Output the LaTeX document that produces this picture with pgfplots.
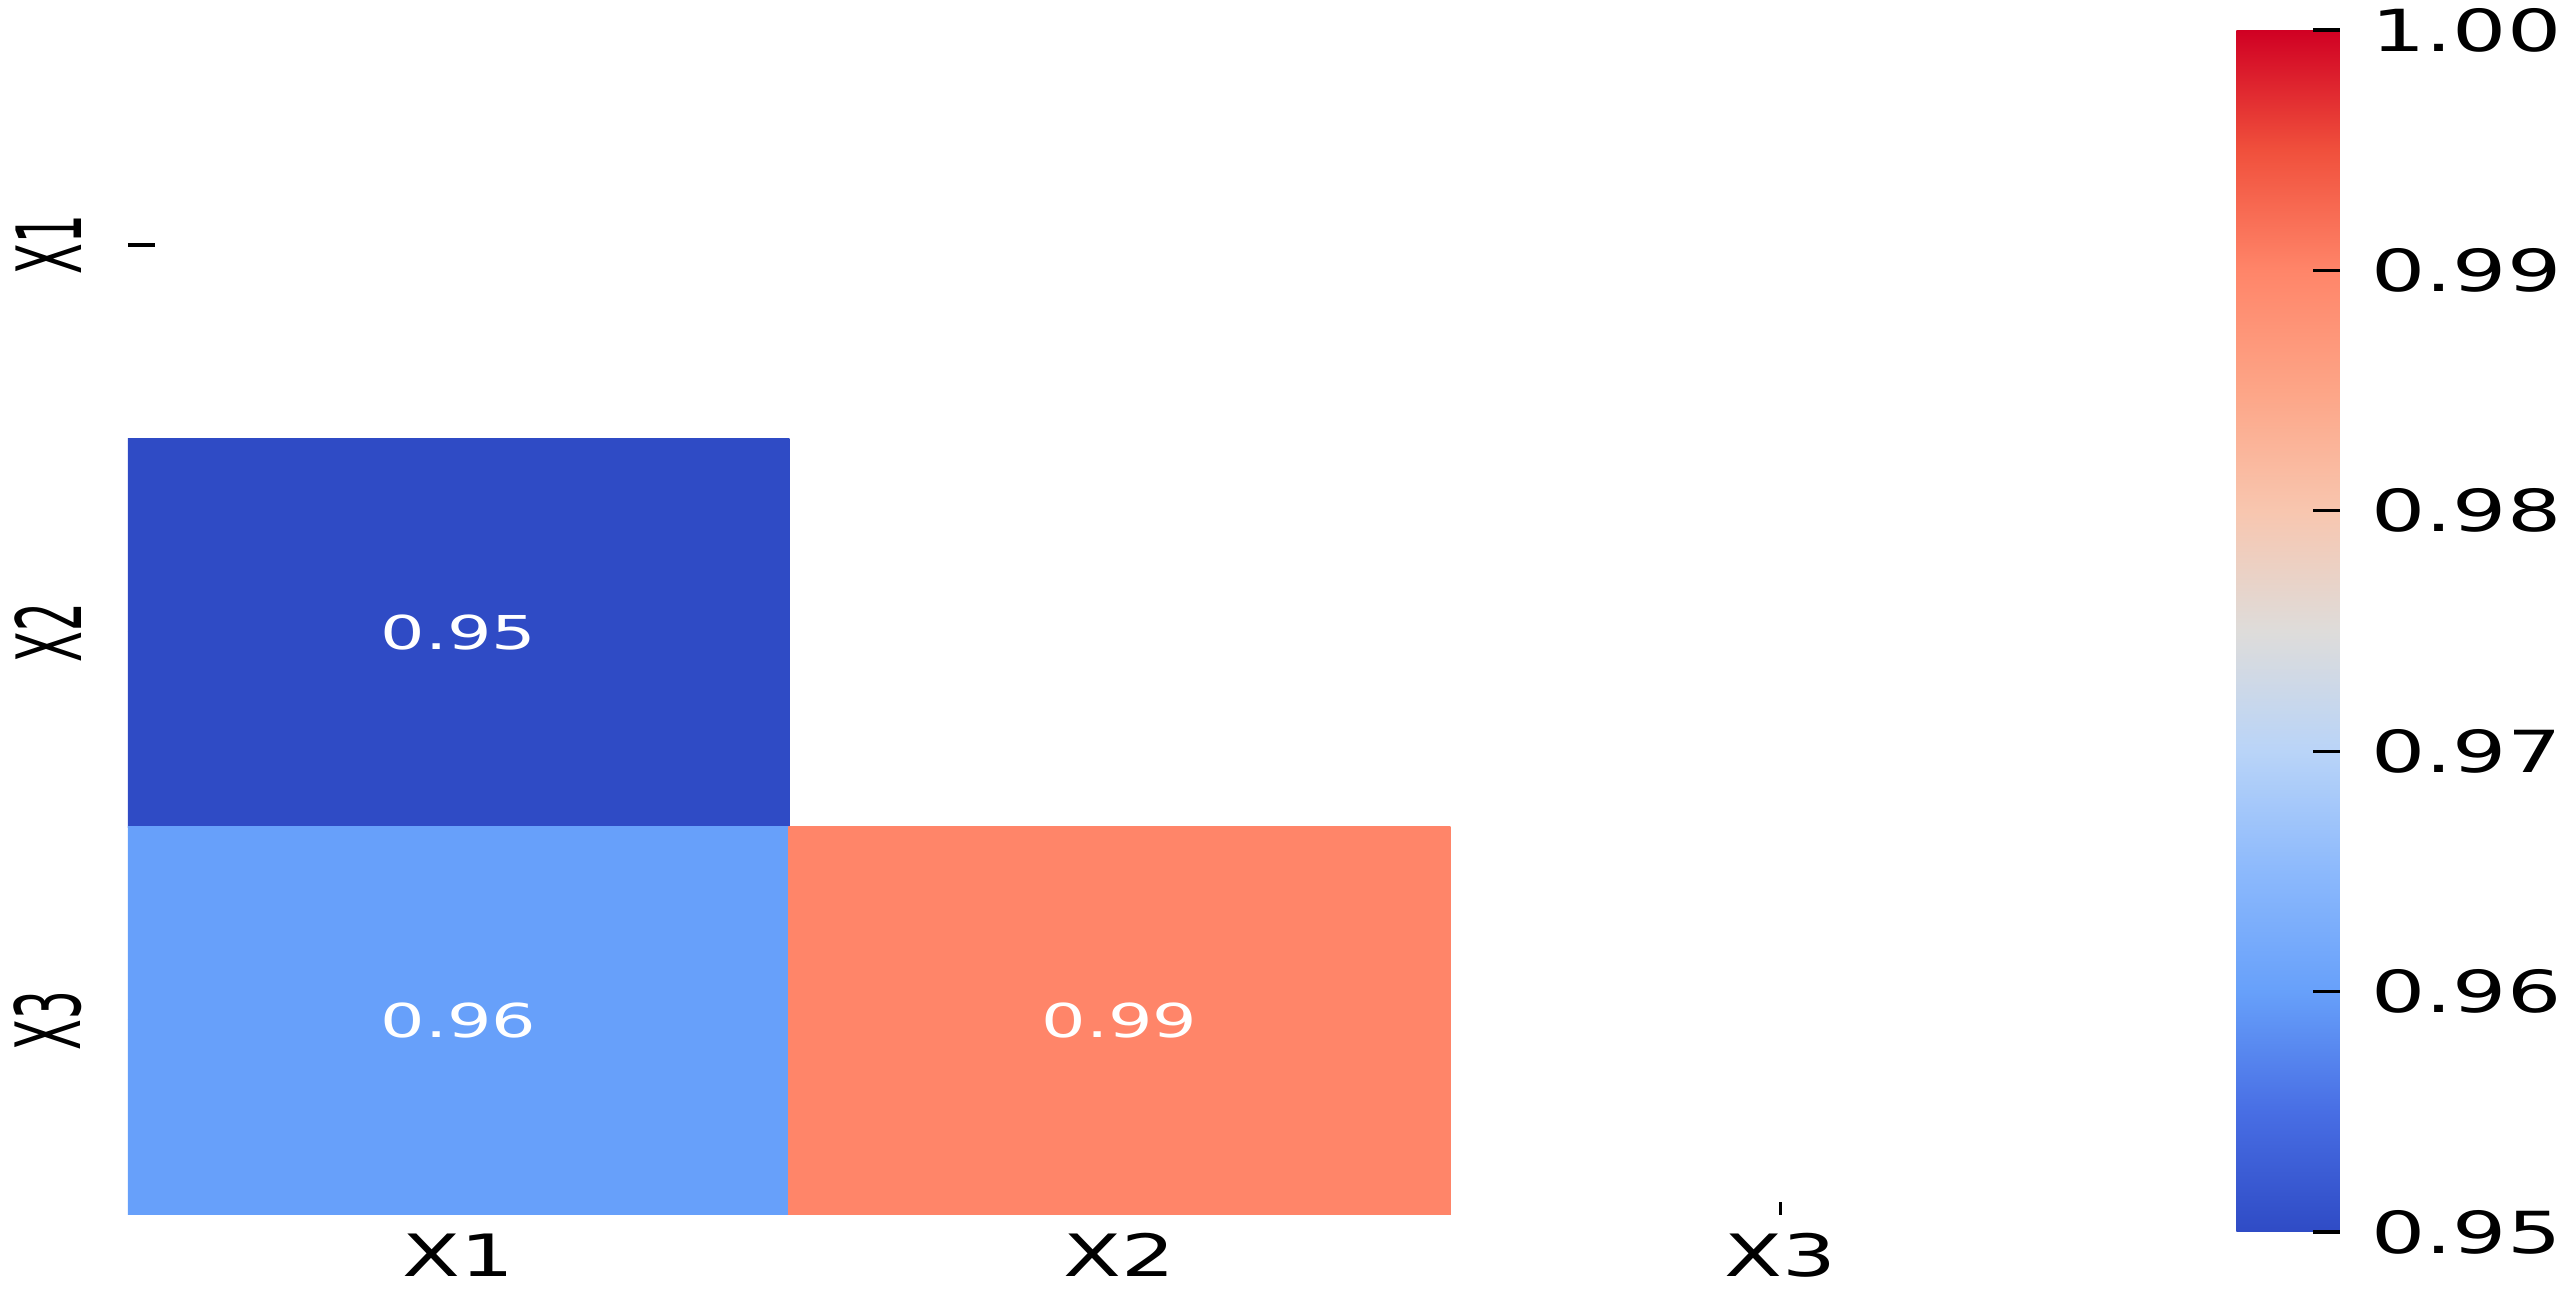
\documentclass[border=0pt]{standalone}
\usepackage{pgfplots}
\pgfplotsset{compat=1.18}
\usepackage{fontspec}
\setmainfont{DejaVu Sans}
\newfontfamily\xfont[FakeStretch=1.45]{DejaVu Sans}
\newfontfamily\cbfont[FakeStretch=1.47]{DejaVu Sans}
\newfontfamily\annfont[FakeStretch=1.5]{DejaVu Sans}

\pgfplotsset{
    colormap={cw}{
        rgb255(0cm)=(47,75,197) rgb255(1cm)=(72,110,228) rgb255(2cm)=(103,160,250)
        rgb255(3cm)=(140,185,252) rgb255(4cm)=(185,212,248) rgb255(5cm)=(222,220,218)
        rgb255(6cm)=(248,198,175) rgb255(7cm)=(253,165,135) rgb255(8cm)=(255,133,105)
        rgb255(9cm)=(240,80,60) rgb255(10cm)=(208,0,35)
    },
}

% lower triangle of the correlation matrix (rows X2, X3 at y=1, 0)
\pgfplotstableread{
x    y    c
-0.5 0.5  0.95
0.5  0.5  0.95
0.5  1.5  0.95
-0.5 1.5  0.95
-0.5 -0.5 0.96
0.5  -0.5 0.96
0.5  0.5  0.96
-0.5 0.5  0.96
0.5  -0.5 0.99
1.5  -0.5 0.99
1.5  0.5  0.99
0.5  0.5  0.99
}\cells

\pgfplotstableread{
x y lab
0 1 0.95
0 0 0.96
1 0 0.99
}\labels

\begin{document}
\begin{tikzpicture}
\useasboundingbox (-38.4pt,-22.8pt) rectangle (732.3pt,364.5pt);
\begin{axis}[
    at={(0,0)}, anchor=south west,
    width=594.9pt, height=349.2pt, scale only axis,
    xmin=-0.5, xmax=2.5, ymin=-0.5, ymax=2.5,
    axis line style={draw=none},
    xtick={0,1,2}, xticklabels={X1,X2,X3},
    ytick={0,1,2},
    yticklabels={\scalebox{1}[2]{X3},\scalebox{1}[2]{X2},\scalebox{1}[2]{X1}},
    tick align=inside,
    xtick pos=left, ytick pos=left,
    xtick style={black, line width=1pt, /pgfplots/major tick length=4pt},
    ytick style={black, line width=1pt, /pgfplots/major tick length=8pt},
    xticklabel style={font=\xfont\fontsize{17.5}{19}\selectfont, anchor=north, inner sep=0pt},
    xticklabel shift=5.4pt,
    yticklabel style={font=\fontsize{13.5}{16}\selectfont, rotate=90, anchor=south, inner sep=0pt},
    yticklabel shift=13.8pt,
    colormap name=cw,
    point meta min=0.95, point meta max=1.00,
    colorbar,
    /pgfplots/colorbar/width=31pt,
    colorbar style={
        scale only axis, height=360.6pt,
        at={(parent axis.south east)}, anchor=south west,
        xshift=29.1pt, yshift=-5.1pt,
        axis line style={draw=none},
        ytick={0.95,0.96,0.97,0.98,0.99,1.00},
        tick align=inside, ytick pos=right, yticklabel pos=right,
        ytick style={black, line width=1pt, /pgfplots/major tick length=8pt},
        yticklabel style={font=\cbfont\fontsize{17.4}{20}\selectfont, anchor=west, inner sep=0pt,
            /pgf/number format/.cd, fixed, fixed zerofill, precision=2, assume math mode=true},
        yticklabel shift=9.3pt,
    },
]
\addplot[patch, patch type=rectangle, shader=flat, point meta=\thisrow{c}] table {\cells};
\addplot[only marks, mark=none, point meta=explicit symbolic, nodes near coords,
    nodes near coords style={font=\annfont\fontsize{14}{16}\selectfont, text=white, anchor=center}]
    table[meta=lab] {\labels};
\end{axis}
\end{tikzpicture}
\end{document}
